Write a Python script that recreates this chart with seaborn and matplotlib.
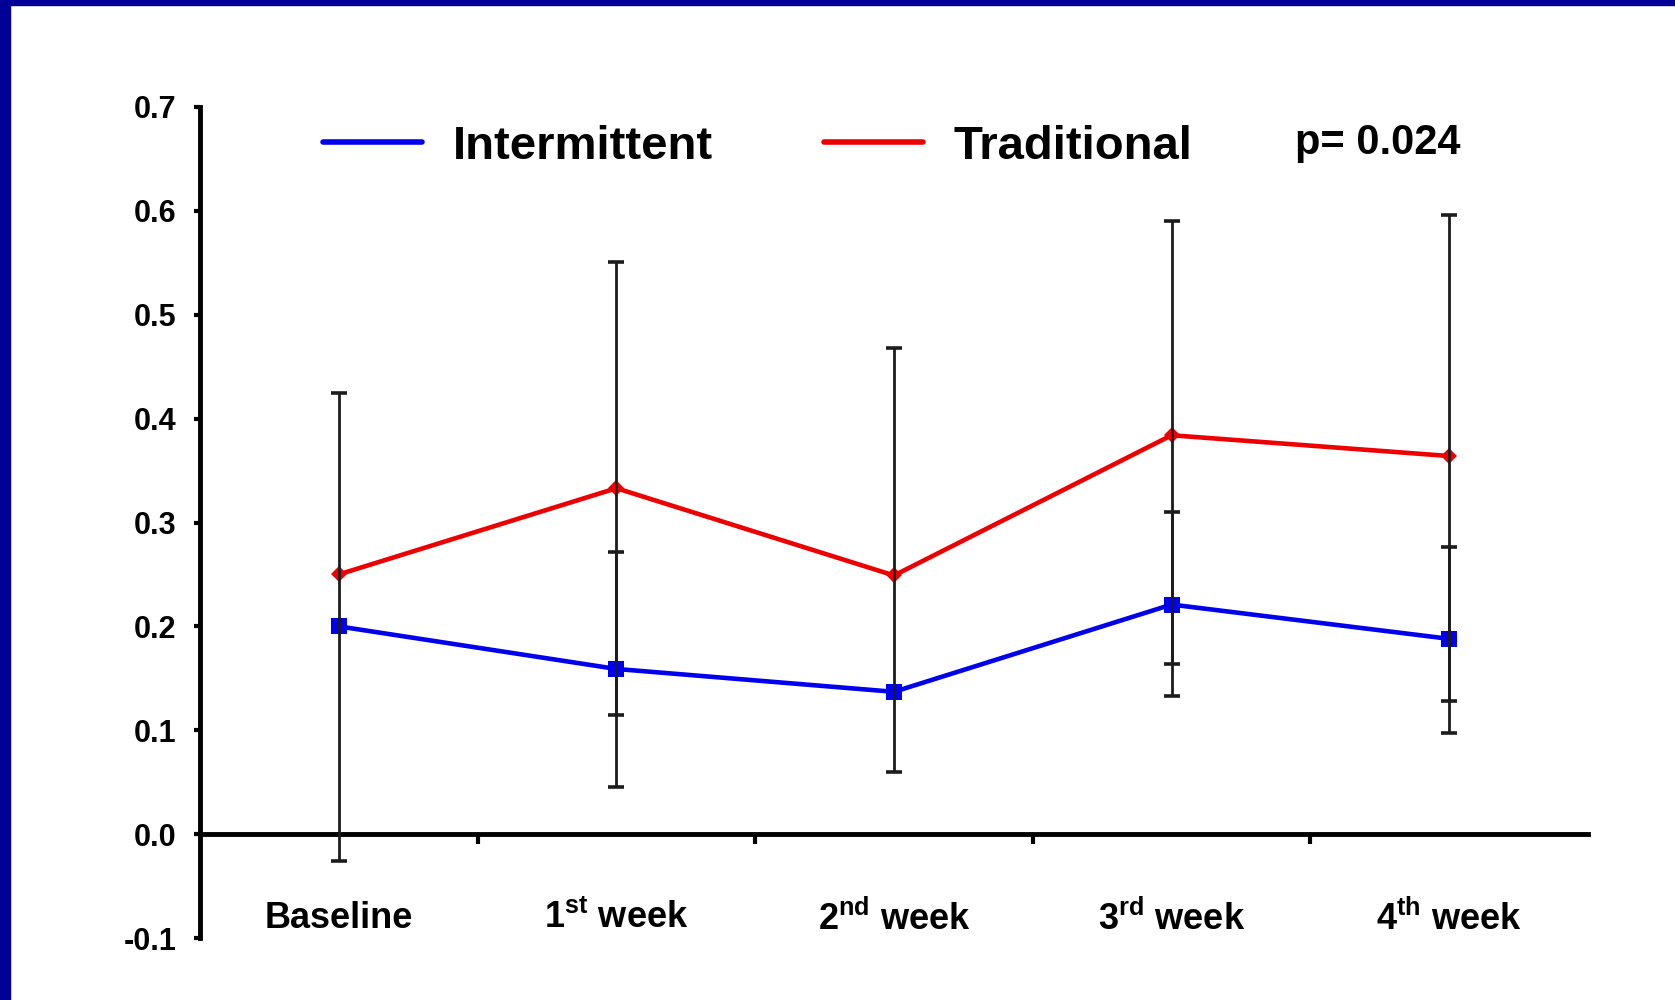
import numpy as np
import pandas as pd
import matplotlib
matplotlib.use("Agg")
import matplotlib.pyplot as plt
from matplotlib.lines import Line2D
from matplotlib.patches import Rectangle
import seaborn as sns

# ---- data -------------------------------------------------------------
weeks = ["Baseline", r"1$^{\mathrm{st}}$ week", r"2$^{\mathrm{nd}}$ week",
         r"3$^{\mathrm{rd}}$ week", r"4$^{\mathrm{th}}$ week"]
intermittent = [0.200, 0.159, 0.137, 0.221, 0.188]
traditional = [0.250, 0.333, 0.249, 0.384, 0.364]

# error-bar bounds (NaN = no bar drawn)
intermittent_low = [-0.026, 0.045, np.nan, 0.133, 0.097]
intermittent_high = [0.425, 0.272, np.nan, 0.310, 0.276]
traditional_low = [np.nan, 0.115, 0.060, 0.164, 0.128]
traditional_high = [np.nan, 0.551, 0.468, 0.590, 0.596]

yticks = [-0.1, 0.0, 0.1, 0.2, 0.3, 0.4, 0.5, 0.6, 0.7]
p_text = "p= 0.024"

BLUE = "#0000EE"
RED = "#EE0000"
FRAME = "#000099"

# ---- style ------------------------------------------------------------
sns.set_style("white")
plt.rcParams["font.family"] = ["Liberation Sans", "DejaVu Sans"]
plt.rcParams["font.weight"] = "bold"
plt.rcParams["text.color"] = "black"
plt.rcParams["xtick.color"] = "black"
plt.rcParams["ytick.color"] = "black"
plt.rcParams["xtick.labelcolor"] = "black"
plt.rcParams["ytick.labelcolor"] = "black"
plt.rcParams["mathtext.fontset"] = "custom"
plt.rcParams["mathtext.rm"] = "Liberation Sans:bold"
plt.rcParams["mathtext.it"] = "Liberation Sans:bold"
plt.rcParams["mathtext.bf"] = "Liberation Sans:bold"

fig = plt.figure(figsize=(16.75, 10), dpi=100)
ax = fig.add_axes([200 / 1675, 0.062, (1588 - 200) / 1675, 0.893 - 0.062])

x = np.arange(len(weeks))
df_int = pd.DataFrame({"x": x, "value": intermittent})
df_tra = pd.DataFrame({"x": x, "value": traditional})

sns.lineplot(data=df_int, x="x", y="value", color=BLUE, linewidth=3.3,
             marker="s", markersize=11, markeredgewidth=0, ax=ax, zorder=3)
sns.lineplot(data=df_tra, x="x", y="value", color=RED, linewidth=3.3,
             marker="D", markersize=8, markeredgewidth=0, ax=ax, zorder=3)

# error bars drawn over the lines
for mean, low, high in [(intermittent, intermittent_low, intermittent_high),
                        (traditional, traditional_low, traditional_high)]:
    mean = np.asarray(mean)
    low = np.asarray(low)
    high = np.asarray(high)
    m = ~np.isnan(low)
    ax.errorbar(x[m], mean[m], yerr=[mean[m] - low[m], high[m] - mean[m]],
                fmt="none", ecolor="#1c1c1c", elinewidth=2.0,
                capsize=5.8, capthick=2.6, zorder=4)

# ---- axes -------------------------------------------------------------
ax.set_xlim(-0.5, len(weeks) - 0.5)
ax.set_ylim(-0.1, 0.7)
ax.set_xlabel("")
ax.set_ylabel("")

for side in ["top", "right"]:
    ax.spines[side].set_visible(False)
ax.spines["bottom"].set_position(("data", 0))
for side in ["left", "bottom"]:
    ax.spines[side].set_linewidth(3.5)
    ax.spines[side].set_color("black")

ax.set_yticks(yticks)
ax.set_yticklabels([f"{v:.1f}" for v in yticks])
ax.tick_params(axis="y", direction="out", length=4, width=3, pad=13,
               labelsize=22, left=True, colors="black")

# divider ticks between categories, category names as minor ticks
ax.set_xticks(x[:-1] + 0.5)
ax.set_xticklabels([])
ax.tick_params(axis="x", which="major", direction="out", length=7, width=3,
               bottom=True, colors="black")
ax.set_xticks(x, minor=True)
ax.set_xticklabels(weeks, minor=True)
ax.tick_params(axis="x", which="minor", length=0, pad=48, labelsize=26,
               colors="black")

for lab in ax.get_yticklabels() + ax.get_xticklabels(minor=True):
    lab.set_fontweight("bold")
    lab.set_color("black")

ax.grid(False)

# ---- legend and annotation ---------------------------------------------
handles = [Line2D([], [], color=BLUE, linewidth=4),
           Line2D([], [], color=RED, linewidth=4)]
leg = fig.legend(handles, ["Intermittent", "Traditional"], ncol=2,
                 loc="center left", bbox_to_anchor=(323 / 1675, 0.853),
                 frameon=False, fontsize=34, handlelength=2.1,
                 handletextpad=0.65, columnspacing=2.35, borderpad=0,
                 borderaxespad=0)
for t in leg.get_texts():
    t.set_fontweight("bold")
    t.set_color("black")

fig.text(1295 / 1675, 0.857, p_text, fontsize=30, fontweight="bold",
         ha="left", va="center", color="black")

# slide frame
fig.patches.append(Rectangle((0, 0), 10 / 1675, 1, transform=fig.transFigure,
                             color=FRAME, zorder=10))
fig.patches.append(Rectangle((0, 1 - 5 / 1000), 1, 5 / 1000,
                             transform=fig.transFigure, color=FRAME, zorder=10))

fig.savefig("out.png", dpi=100)
